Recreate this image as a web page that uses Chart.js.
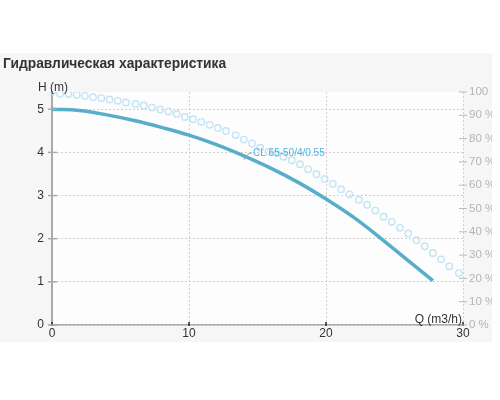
<!DOCTYPE html>
<html>
<head>
<meta charset="utf-8">
<script src="https://cdn.jsdelivr.net/npm/chart.js@4"></script>
<style>
  html, body { margin: 0; padding: 0; background: #fff; }
  #wrap { width: 500px; height: 400px; position: relative; }
</style>
</head>
<body>
<div id="wrap"><canvas id="chart" width="500" height="400"></canvas></div>
<script>
// Curva de la bomba H(Q)
const caudalH = [0, 2, 4, 6, 8, 10, 12, 14, 16, 18, 20, 22, 24, 26, 27.8];
const altura = [5.0, 4.97, 4.87, 4.74, 4.58, 4.4, 4.18, 3.92, 3.63, 3.3, 2.92, 2.5, 2.01, 1.49, 1.03];

// Rendimiento (puntos), en %
const caudalEta = [0, 0.6, 1.2, 1.8, 2.4, 3.0, 3.6, 4.2, 4.8, 5.4, 6.1, 6.7, 7.3, 7.9, 8.5, 9.1, 9.7, 10.3,
  10.9, 11.5, 12.1, 12.7, 13.4, 14.0, 14.6, 15.2, 15.8, 16.4, 16.9, 17.5, 18.1, 18.7, 19.3, 19.9, 20.5,
  21.1, 21.7, 22.4, 23.0, 23.6, 24.2, 24.8, 25.4, 26.0, 26.6, 27.2, 27.8, 28.4, 29.0, 29.7];
const rendimiento = [100, 99.3, 99.1, 98.8, 98.4, 97.8, 97.4, 96.8, 96.2, 95.5, 94.9, 94.2, 93.3, 92.5,
  91.6, 90.6, 89.3, 88.3, 87.2, 85.9, 84.6, 83.3, 81.5, 79.6, 77.9, 76.1, 74.4, 73.7, 72.2, 70.7, 69.0,
  66.8, 64.7, 62.7, 60.6, 58.3, 56.1, 53.8, 51.6, 49.1, 46.5, 44.3, 41.7, 39.3, 36.4, 33.8, 30.9, 28.2,
  25.2, 22.3];

const ticksQ = [0, 10, 20, 30];
const ticksH = [0, 1, 2, 3, 4, 5];
const ticksEta = [0, 10, 20, 30, 40, 50, 60, 70, 80, 90, 100];

const titulo = 'Гидравлическая характеристика';
const nombreCurva = 'CL 65-50/4/0.55';
const fuente = '"Liberation Sans", Arial, sans-serif';

// Fondo gris, area blanca, textos y marcas de los ejes
const decoracion = {
  id: 'decoracion',
  beforeDraw(chart) {
    const ctx = chart.ctx;
    const a = chart.chartArea;
    ctx.save();
    ctx.fillStyle = '#f6f6f6';
    ctx.fillRect(0, 53, 492, 289);
    ctx.fillStyle = '#fdfdfd';
    ctx.fillRect(a.left, a.top, a.right - a.left, a.bottom - a.top);
    ctx.fillStyle = '#333';
    ctx.font = 'bold 13.8px ' + fuente;
    ctx.textBaseline = 'alphabetic';
    ctx.fillText(titulo, 3, 68);
    ctx.restore();
  },
  afterDatasetsDraw(chart) {
    const ctx = chart.ctx;
    const x = chart.scales.x;
    const y = chart.scales.y;
    ctx.save();
    // marcas eje X
    ctx.strokeStyle = '#222';
    ctx.lineWidth = 1.5;
    ticksQ.forEach(v => {
      const px = x.getPixelForValue(v);
      ctx.beginPath();
      ctx.moveTo(px, y.bottom - 3);
      ctx.lineTo(px, y.bottom + 1);
      ctx.stroke();
    });
    // marcas eje Y
    ctx.strokeStyle = '#aaa';
    ticksH.forEach(v => {
      const py = y.getPixelForValue(v);
      ctx.beginPath();
      ctx.moveTo(x.left - 4, py);
      ctx.lineTo(x.left + 5, py);
      ctx.stroke();
    });
    // marcas eje derecho
    const y2 = chart.scales.y2;
    ctx.strokeStyle = '#bbb';
    ctx.lineWidth = 1;
    ticksEta.forEach(v => {
      const py = y2.getPixelForValue(v);
      ctx.beginPath();
      ctx.moveTo(x.right - 4, py);
      ctx.lineTo(x.right + 4, py);
      ctx.stroke();
    });
    // titulos de ejes
    ctx.fillStyle = '#333';
    ctx.font = '12px ' + fuente;
    ctx.textAlign = 'left';
    ctx.fillText('H (m)', 38, 91);
    ctx.textAlign = 'right';
    ctx.fillText('Q (m3/h)', x.right - 1, y.bottom - 2);
    // etiqueta de la curva
    const lx = x.getPixelForValue(14.6);
    const ly = y.getPixelForValue(3.92);
    ctx.strokeStyle = '#999';
    ctx.lineWidth = 1;
    ctx.beginPath();
    ctx.moveTo(lx - 8, ly + 4);
    ctx.quadraticCurveTo(lx - 5, ly - 3, lx, ly - 3);
    ctx.stroke();
    ctx.fillStyle = '#4ab4e2';
    ctx.font = '10px ' + fuente;
    ctx.textAlign = 'left';
    ctx.textBaseline = 'middle';
    ctx.fillText(nombreCurva, lx + 1, ly - 3);
    ctx.restore();
  },
  afterDraw(chart) {
    const ctx = chart.ctx;
    ctx.save();
    ctx.fillStyle = '#fff';
    ctx.fillRect(492, 0, 8, 400);
    ctx.restore();
  }
};

new Chart(document.getElementById('chart'), {
  type: 'scatter',
  data: {
    datasets: [
      {
        label: 'H',
        data: caudalH.map((q, i) => ({ x: q, y: altura[i] })),
        showLine: true,
        borderColor: '#58aec9',
        borderWidth: 3.5,
        pointRadius: 0,
        tension: 0.4,
        yAxisID: 'y',
        order: 1
      },
      {
        label: 'Eta',
        data: caudalEta.map((q, i) => ({ x: q, y: rendimiento[i] })),
        showLine: false,
        pointStyle: 'circle',
        pointRadius: 3.2,
        borderWidth: 1.4,
        borderColor: '#c2e4f4',
        backgroundColor: 'rgba(255,255,255,0)',
        yAxisID: 'y2',
        order: 2
      }
    ]
  },
  options: {
    responsive: false,
    animation: false,
    events: [],
    layout: { padding: { top: 92, left: 0, right: 0, bottom: 0 } },
    plugins: {
      legend: { display: false },
      tooltip: { enabled: false }
    },
    scales: {
      x: {
        type: 'linear',
        min: 0,
        max: 30,
        afterBuildTicks: s => { s.ticks = ticksQ.map(v => ({ value: v })); },
        afterFit: s => { s.height = 75; },
        grid: { color: '#d0d0d0', drawTicks: false, lineWidth: 1 },
        border: { color: '#aaa', width: 1.5, dash: [2, 2] },
        ticks: { color: '#333', font: { family: fuente, size: 12 }, padding: 1 }
      },
      y: {
        type: 'linear',
        position: 'left',
        min: 0,
        max: 5.4,
        afterBuildTicks: s => { s.ticks = ticksH.map(v => ({ value: v })); },
        afterFit: s => { s.width = 52; },
        grid: { color: '#d0d0d0', drawTicks: false, lineWidth: 1 },
        border: { color: '#aaa', width: 2, dash: [2, 2] },
        ticks: { color: '#333', font: { family: fuente, size: 12 }, padding: 8 }
      },
      y2: {
        type: 'linear',
        position: 'right',
        min: 0,
        max: 100,
        afterBuildTicks: s => { s.ticks = ticksEta.map(v => ({ value: v })); },
        afterFit: s => { s.width = 37; },
        grid: { display: false, drawTicks: false },
        border: { display: false },
        ticks: {
          color: '#b4b4b4',
          font: { family: fuente, size: 11.5 },
          padding: 6,
          callback: v => v + ' %'
        }
      }
    }
  },
  plugins: [decoracion]
});
</script>
</body>
</html>
